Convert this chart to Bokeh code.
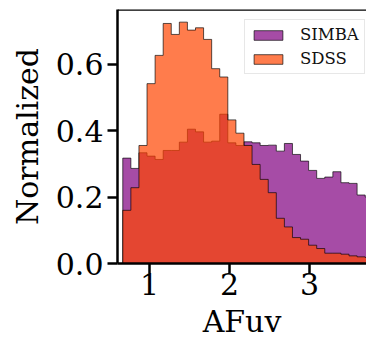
from bokeh.plotting import figure
from bokeh.models import FixedTicker, Range1d, Span, Legend, LegendItem, PrintfTickFormatter
from bokeh.embed import file_html
from bokeh.resources import INLINE

# histogram bins (equal width)
bin_start = 0.666
bin_width = 0.101

simba = [0.317, 0.286, 0.333, 0.323, 0.313, 0.340, 0.340, 0.365, 0.404, 0.396,
         0.365, 0.368, 0.449, 0.363, 0.355, 0.366, 0.363, 0.355, 0.356, 0.338,
         0.361, 0.328, 0.308, 0.280, 0.256, 0.260, 0.276, 0.243, 0.241, 0.206,
         0.200]
sdss = [0.160, 0.228, 0.355, 0.541, 0.626, 0.722, 0.689, 0.726, 0.702, 0.709,
        0.674, 0.586, 0.561, 0.432, 0.392, 0.355, 0.298, 0.253, 0.213, 0.136,
        0.110, 0.078, 0.073, 0.055, 0.045, 0.031, 0.031, 0.028, 0.023, 0.020,
        0.018]

x_ticks = [1, 2, 3]
y_ticks = [0.0, 0.2, 0.4, 0.6]
series_names = ["SIMBA", "SDSS"]


def outline(vals):
    xs = [bin_start]
    ys = [0.0]
    for i, v in enumerate(vals):
        left = bin_start + i * bin_width
        right = left + bin_width
        xs += [left, right]
        ys += [v, v]
    xs.append(xs[-1])
    ys.append(0.0)
    return xs, ys


X0, X1 = 0.6, 3.7125
Y0, Y1 = 0.0, 0.764
FONT = "DejaVu Serif"

p = figure(width=366, height=342, x_range=Range1d(X0, X1), y_range=Range1d(Y0, Y1),
           output_backend="svg", toolbar_location=None,
           min_border_left=117, min_border_right=0, min_border_top=9, min_border_bottom=79)
p.outline_line_color = None
p.grid.visible = False
p.background_fill_color = "white"
p.border_fill_color = "white"

sx, sy = outline(simba)
r1 = p.patch(sx, sy, fill_color="purple", fill_alpha=0.7,
             line_color="black", line_alpha=0.65, line_width=1)
dx, dy = outline(sdss)
r2 = p.patch(dx, dy, fill_color="orangered", fill_alpha=0.7,
             line_color="black", line_alpha=0.65, line_width=1)

p.add_layout(Span(location=Y1, dimension="width", line_color="black", line_width=2.5))

p.xaxis.ticker = FixedTicker(ticks=x_ticks)
p.yaxis.ticker = FixedTicker(ticks=y_ticks)
p.yaxis.formatter = PrintfTickFormatter(format="%.1f")
for ax in (p.xaxis, p.yaxis):
    ax.axis_line_width = 2.5
    ax.axis_line_color = "black"
    ax.major_tick_out = 10
    ax.major_tick_in = 0
    ax.major_tick_line_width = 2.5
    ax.major_tick_line_color = "black"
    ax.minor_tick_line_color = None
    ax.major_label_text_font = FONT
    ax.major_label_text_font_size = "30px"
    ax.major_label_text_color = "black"
    ax.axis_label_text_font = FONT
    ax.axis_label_text_font_size = "30px"
    ax.axis_label_text_font_style = "normal"
    ax.axis_label_text_color = "black"
p.xaxis.axis_label = "AFuv"
p.yaxis.axis_label = "Normalized"
p.xaxis.major_label_standoff = -1
p.xaxis.axis_label_standoff = 6
p.yaxis.major_label_standoff = 4
p.yaxis.axis_label_standoff = 8

legend = Legend(items=[LegendItem(label=series_names[0], renderers=[r1]),
                       LegendItem(label=series_names[1], renderers=[r2])],
                location=(127, 189))
legend.label_text_font = FONT
legend.label_text_font_size = "16.5px"
legend.label_text_color = "#111111"
legend.glyph_width = 36
legend.glyph_height = 12
legend.label_height = 18
legend.label_standoff = 14
legend.padding = 5
legend.spacing = 5
legend.margin = 0
legend.border_line_color = "#d0d0d0"
legend.border_line_width = 1
legend.background_fill_alpha = 0.8
p.add_layout(legend)

open("out.html", "w").write(file_html(p, INLINE))
